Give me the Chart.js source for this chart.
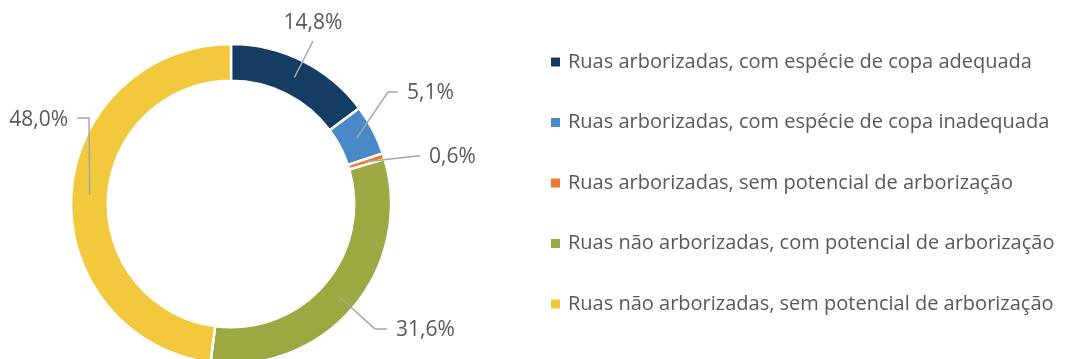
<!DOCTYPE html>
<html>
<head>
<meta charset="utf-8">
<script src="https://cdn.jsdelivr.net/npm/chart.js@4/dist/chart.umd.min.js"></script>
<style>
  html, body { margin: 0; padding: 0; background: #fff; overflow: hidden; }
  canvas { display: block; }
</style>
</head>
<body>
<canvas id="chart-ruas" width="1077" height="400"></canvas>
<script>
const categorias = [
    "Ruas arborizadas, com espécie de copa adequada",
    "Ruas arborizadas, com espécie de copa inadequada",
    "Ruas arborizadas, sem potencial de arborização",
    "Ruas não arborizadas, com potencial de arborização",
    "Ruas não arborizadas, sem potencial de arborização"
]
const percentuais = [14.8, 5.1, 0.6, 31.6, 48.0]
const cores = ['#153d64', '#4a89c8', '#f0782d', '#9da843', '#f2c83d']

// callout placement: elbow offset from the doughnut centre, tail length, text side
const callouts = [
    { dx: 82, dy: -163, tail: 0, side: 'top' },
    { dx: 157, dy: -112, tail: 10, side: 'right' },
    { dx: 186, dy: -48, tail: 3, side: 'right' },
    { dx: 144, dy: 125, tail: 12, side: 'right' },
    { dx: -142, dy: -86, tail: -12, side: 'left' }
]

const LEGEND_FONT = '20px "Open Sans", Lato, sans-serif'
const LABEL_FONT = '21px "Open Sans", Lato, sans-serif'
const TEXT_COLOR = '#595959'

function fmt(v) {
    return v.toFixed(1).replace('.', ',') + '%'
}

const calloutPlugin = {
    id: 'callouts',
    afterDatasetsDraw(chart) {
        const ctx = chart.ctx
        const arcs = chart.getDatasetMeta(0).data
        ctx.save()
        ctx.font = LABEL_FONT
        ctx.fillStyle = TEXT_COLOR
        ctx.strokeStyle = '#a6a6a6'
        ctx.lineWidth = 1.5
        arcs.forEach((arc, i) => {
            const c = callouts[i]
            const start = arc.tooltipPosition()
            const ex = arc.x + c.dx
            const ey = arc.y + c.dy
            ctx.beginPath()
            ctx.moveTo(start.x, start.y)
            ctx.lineTo(ex, ey)
            if (c.tail) ctx.lineTo(ex + c.tail, ey)
            ctx.stroke()

            const txt = fmt(chart.data.datasets[0].data[i])
            if (c.side === 'top') {
                ctx.textAlign = 'center'
                ctx.textBaseline = 'middle'
                ctx.fillText(txt, ex, ey - 18)
            } else if (c.side === 'right') {
                ctx.textAlign = 'left'
                ctx.textBaseline = 'middle'
                ctx.fillText(txt, ex + c.tail + 9, ey + 1)
            } else {
                ctx.textAlign = 'right'
                ctx.textBaseline = 'middle'
                ctx.fillText(txt, ex + c.tail - 9, ey + 2)
            }
        })
        ctx.restore()
    }
}

const legendPlugin = {
    id: 'sideLegend',
    afterDraw(chart) {
        const ctx = chart.ctx
        const colors = chart.data.datasets[0].backgroundColor
        ctx.save()
        ctx.font = LEGEND_FONT
        ctx.textAlign = 'left'
        ctx.textBaseline = 'middle'
        chart.data.labels.forEach((label, i) => {
            const y = 62 + i * 60.5
            ctx.fillStyle = colors[i]
            ctx.fillRect(551, y - 4.5, 9, 9)
            ctx.fillStyle = TEXT_COLOR
            ctx.fillText(label, 568, y)
        })
        ctx.restore()
    }
}

const ctx_ruas = document.getElementById('chart-ruas')
const chart_ruas = new Chart(ctx_ruas, {
    type: 'doughnut',
    data: {
        labels: categorias,
        datasets: [{
            data: percentuais,
            backgroundColor: cores,
            borderColor: '#ffffff',
            borderWidth: 2.5
        }]
    },
    options: {
        responsive: false,
        animation: false,
        radius: 160,
        cutout: '77%',
        layout: {
            padding: { left: 61, right: 676, top: 34, bottom: 26 }
        },
        plugins: {
            legend: { display: false },
            tooltip: { enabled: false }
        }
    },
    plugins: [calloutPlugin, legendPlugin]
})
</script>
</body>
</html>
